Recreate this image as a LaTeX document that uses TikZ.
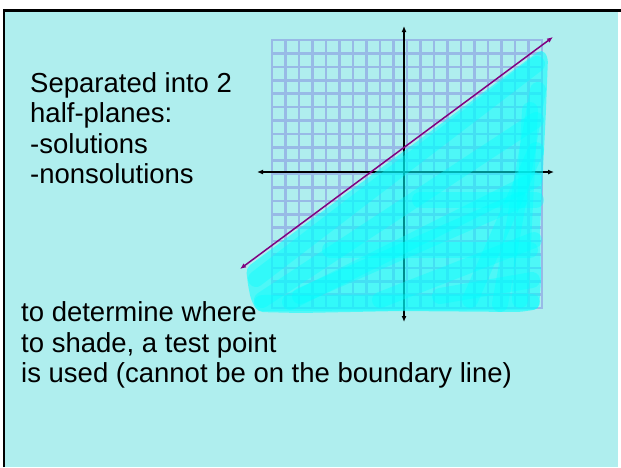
\documentclass[tikz,border=0pt]{standalone}
\usepackage{fontspec}
\setmainfont{Liberation Sans}
\usetikzlibrary{arrows.meta}
\definecolor{bgcyan}{RGB}{175,238,238}
\definecolor{gridblue}{RGB}{152,186,230}
\definecolor{hilite}{RGB}{0,255,255}
\definecolor{linepurple}{RGB}{128,0,128}
\tikzset{
  gridline/.style={gridblue, line width=2.6pt, line cap=rect},
  axisline/.style={black, line width=1.6pt, {Latex[length=6pt,width=5pt]}-{Latex[length=6pt,width=5pt]}},
  boundline/.style={linepurple, line width=1.5pt, {Latex[length=6pt,width=5pt]}-{Latex[length=6pt,width=5pt]}},
  hibase/.style={fill=hilite, fill opacity=0.55, rounded corners=5pt},
  histroke/.style={hilite, opacity=0.35, line width=16pt, line cap=round, line join=round},
  txt/.style={font=\fontsize{27.5}{30.3}\selectfont, anchor=base west, inner sep=0pt, text=black}
}
\begin{document}
\begin{tikzpicture}[x=1pt, y=-1pt]
\useasboundingbox (0,0) rectangle (621,467);
\fill[white] (0,0) rectangle (621,467);
\fill[bgcyan] (4,10.5) rectangle (618,467);
\draw[line width=2.6pt] (4,467) -- (4,10.5) -- (621,10.5);

% grid
\foreach \i in {0,...,20} {
  \draw[gridline] ({272+13.5*\i},40) -- ({272+13.5*\i},308);
  \draw[gridline] (272,{40+13.4*\i}) -- (542,{40+13.4*\i});
}

% axes
\coordinate (yt) at (404,26);
\coordinate (yb) at (404,322);
\coordinate (xl) at (257,172);
\coordinate (xr) at (554,172);
\draw[axisline] (yb) -- (yt);
\draw[axisline] (xl) -- (xr);

% highlighter shading
\fill[hibase] (246,268) -- (542,49) -- (548,57) -- (546,110) -- (543,170) -- (540,230)
  -- (541,280) -- (539,309) -- (520,312) -- (400,311) -- (300,313) -- (258,312)
  -- (251,300) -- (248,285) -- cycle;
\foreach \ax/\ay/\bx/\by in {
  256/279/537/64, 262/300/536/120, 290/302/534/180, 262/303/532/302,
  380/300/534/240, 470/300/536/150, 500/304/538/90, 440/296/532/280,
  520/300/530/110, 300/296/520/200, 420/200/536/200, 330/250/530/250} {
  \draw[histroke] (\ax,\ay) -- (\bx,\by);
}

% boundary line
\coordinate (la) at (240,269);
\coordinate (lb) at (553,37);
\draw[boundline] (la) -- (lb);

% texts
\node[txt] (t1) at (30,92) {Separated into 2};
\node[txt] (t2) at (30,122.5) {half-planes:};
\node[txt] (t3) at (30,153) {-solutions};
\node[txt] (t4) at (30,183) {-nonsolutions};
\node[txt] (b1) at (21,321.5) {to determine where};
\node[txt] (b2) at (21,352) {to shade, a test point};
\node[txt] (b3) at (21,382) {is used (cannot be on the boundary line)};
\end{tikzpicture}
\end{document}
